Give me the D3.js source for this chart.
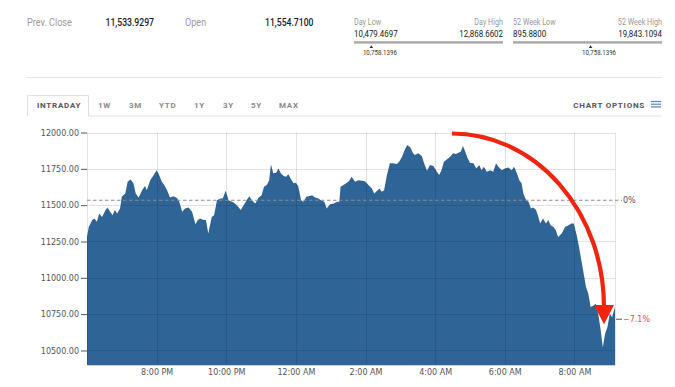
<!DOCTYPE html>
<html lang="en">
<head>
  <meta charset="UTF-8" />
  <title>Intraday chart</title>
  <script src="https://d3js.org/d3.v7.min.js"></script>
  <style>
    body {
      margin: 0;
      background: #fff;
    }
    svg {
      display: block;
    }
    .hdr {
      font-family: "Roboto", Arial, sans-serif;
    }
    .tab {
      font-family: "Roboto", Arial, sans-serif;
      font-weight: bold;
      font-size: 8px;
      letter-spacing: 0.75px;
    }
    .axis text {
      font-family: "DejaVu Sans", Verdana, sans-serif;
      font-size: 8px;
      fill: #555;
    }
  </style>
</head>
<body>
  <svg id="chart" width="675" height="387"></svg>

  <script>
    // quote header
    const prevClose = 11533.9297;
    const openPrice = 11554.71;
    const dayLow = 10479.4697, dayHigh = 12868.6602;
    const weekLow = 895.88, weekHigh = 19843.1094;
    const lastPrice = 10758.1396;
    const changePct = -7.1;

    const tabs = ["INTRADAY", "1W", "3M", "YTD", "1Y", "3Y", "5Y", "MAX"];

    // minutes after 6:00 PM, and price
    const minutes = [0,3,9,13,17,21,26,32,35,40, 44,48,52,57,60,66,70,75,80,84,
      89,95,100,103,109,115,120,123,129,133, 138,143,149,155,159,164,169,175,181,187,
      191,195,201,205,209,215,219,224,230,234, 239,244,250,255,261,265,270,276,280,284,
      290,296,301,305,310,314,317,321,326,330, 334,339,343,347,351,356,360,364,369,373,
      378,382,388,393,399,403,409,413,419,425, 431,435,437,442,448,452,456,462,468,474,
      479,485,491,495,500,504,508,512,517,522, 528,534,538,543,548,552,557,562,565,571,
      577,581,586,591,597,603,607,611,615,620, 626,631,636,640,644,648,652,656,660,666,
      671,676,680,684,689,695,700,705,709,715, 720,726,732,736,741,745,749,752,757,761,
      765,769,774,778,781,786,791,795,799,804, 808,812,818,824,830,835,839,844,848,853,
      857,860,864,868,873,877,881,885,889,893, 897,901,905,910];
    const prices = [11281,11350,11397,11408,11385,11443,11419,11466,11484,11454,
      11431,11466,11443,11477,11557,11581,11661,11677,11650,11581,
      11553,11603,11631,11603,11672,11707,11741,11719,11661,11638,
      11603,11553,11562,11550,11523,11454,11477,11484,11454,11369,
      11397,11408,11397,11397,11305,11419,11431,11534,11546,11546,
      11599,11534,11523,11512,11488,11466,11500,11539,11562,11534,
      11512,11553,11569,11626,11638,11672,11781,11719,11723,11753,
      11719,11700,11695,11712,11684,11650,11654,11631,11534,11523,
      11557,11562,11569,11553,11546,11534,11523,11477,11507,11512,
      11523,11523,11626,11638,11654,11668,11695,11661,11672,11668,
      11665,11638,11615,11581,11599,11615,11592,11603,11707,11788,
      11788,11783,11799,11833,11884,11914,11898,11857,11845,11857,
      11838,11788,11737,11776,11769,11730,11707,11741,11799,11815,
      11833,11857,11852,11861,11868,11907,11868,11822,11792,11788,
      11753,11776,11741,11764,11730,11741,11730,11788,11764,11741,
      11753,11760,11741,11764,11719,11672,11650,11581,11534,11523,
      11477,11484,11466,11419,11374,11408,11374,11397,11362,11350,
      11328,11281,11305,11350,11362,11374,11374,11293,11212,11098,
      11005,10937,10891,10799,10810,10822,10753,10650,10523,10615,
      10661,10753,10730,10799];

    const yTicks = [10500, 10750, 11000, 11250, 11500, 11750, 12000];
    const xTickTimes = ["20:00", "22:00", "00:00", "02:00", "04:00", "06:00", "08:00"];

    // red annotation arrow: [minutes after 6 PM, price]
    const arrowFrom = [629, 11993];
    const arrowTo = [891, 10800];
    const arrowTip = 10680;

    const svg = d3.select("#chart");
    const start = new Date(2020, 2, 8, 18, 0);
    const end = d3.timeMinute.offset(start, 910);
    const data = minutes.map((m, i) => ({ t: d3.timeMinute.offset(start, m), v: prices[i] }));
    const tickDates = xTickTimes.map(s => {
      const [h, m] = s.split(":").map(Number);
      const d = new Date(start);
      if (h < 18) d.setDate(d.getDate() + 1);
      d.setHours(h, m);
      return d;
    });

    const fmt4 = d3.format(",.4f");

    // ---- header (narrow face: squeeze Roboto horizontally) ----
    const hdr = svg.append("g").attr("class", "hdr");
    function hText(x, y, size, fill, str, sx, anchor) {
      return hdr.append("text")
        .attr("transform", `translate(${x},${y}) scale(${sx},1)`)
        .attr("font-size", size).attr("fill", fill)
        .attr("text-anchor", anchor || "start")
        .text(str);
    }
    hText(27, 26, 10.8, "#9a9a9a", "Prev. Close", 0.84);
    hText(105.5, 26, 10.8, "#1a1a1a", fmt4(prevClose), 0.8).attr("font-weight", 500);
    hText(185, 26, 10.8, "#9a9a9a", "Open", 0.84);
    hText(265, 26, 10.8, "#1a1a1a", fmt4(openPrice), 0.8).attr("font-weight", 500);

    function rangeBlock(x0, x1, lowLabel, highLabel, lo, hi) {
      hText(x0, 24.8, 8.8, "#999", lowLabel, 0.82);
      hText(x1, 24.8, 8.8, "#999", highLabel, 0.82, "end");
      hText(x0, 36.6, 9.2, "#1a1a1a", fmt4(lo), 0.86);
      hText(x1, 36.6, 9.2, "#1a1a1a", fmt4(hi), 0.86, "end");
      hdr.append("rect").attr("x", x0).attr("y", 41.2).attr("width", x1 - x0).attr("height", 2.4).attr("fill", "#a9a9a9");
      const s = d3.scaleLinear().domain([lo, hi]).range([x0, x1]);
      const mx = s(lastPrice);
      hdr.append("path").attr("d", `M${mx - 1.8},48 L${mx + 1.8},48 L${mx},45.2 Z`).attr("fill", "#333");
      hText(mx - 8.5, 55, 6.5, "#333", fmt4(lastPrice), 0.95);
    }
    rangeBlock(354, 503, "Day Low", "Day High", dayLow, dayHigh);
    rangeBlock(513, 662, "52 Week Low", "52 Week High", weekLow, weekHigh);

    svg.append("line").attr("x1", 27).attr("x2", 662).attr("y1", 77.5).attr("y2", 77.5)
      .attr("stroke", "#e6e6e6");

    // ---- tabs ----
    svg.append("path").attr("d", "M27.5,116 V95.5 H88.5 V116").attr("fill", "none").attr("stroke", "#e0e0e0");
    svg.append("line").attr("x1", 88.5).attr("x2", 662).attr("y1", 116).attr("y2", 116).attr("stroke", "#e6e6e6");
    const tabX = [37, 98, 129, 159, 194, 223, 251, 279];
    svg.append("g").selectAll("text").data(tabs).join("text")
      .attr("class", "tab")
      .attr("x", (d, i) => tabX[i]).attr("y", 107.5)
      .attr("fill", (d, i) => i === 0 ? "#555" : "#8a8a8a")
      .text(d => d);
    svg.append("text").attr("class", "tab").attr("x", 645).attr("y", 107.5).attr("text-anchor", "end")
      .attr("fill", "#555").attr("letter-spacing", "0.6px").text("CHART OPTIONS");
    svg.append("g").selectAll("line").data([101.5, 104.2, 106.9]).join("line")
      .attr("x1", 651).attr("x2", 661).attr("y1", d => d).attr("y2", d => d)
      .attr("stroke", "#5b80b8").attr("stroke-width", 1.2);

    // ---- chart ----
    const plotLeft = 87, plotRight = 615, plotTop = 132.5, plotBottom = 365;
    const x = d3.scaleTime().domain([start, end]).range([plotLeft, plotRight]);
    const y = d3.scaleLinear().domain([10400, 12000]).range([plotBottom, plotTop]);

    svg.append("path")
      .datum(data)
      .attr("fill", "#2f6497")
      .attr("d", d3.area().x(d => x(d.t)).y0(plotBottom).y1(d => y(d.v)));

    // grid
    const grid = svg.append("g").attr("stroke", "rgba(0,0,0,0.11)").attr("stroke-width", 1);
    grid.selectAll(".h").data(yTicks).join("line")
      .attr("x1", plotLeft).attr("x2", plotRight)
      .attr("y1", d => Math.round(y(d)) + 0.5).attr("y2", d => Math.round(y(d)) + 0.5);
    grid.selectAll(".v").data([start, ...tickDates, end]).join("line")
      .attr("x1", d => Math.round(x(d)) + 0.5).attr("x2", d => Math.round(x(d)) + 0.5)
      .attr("y1", plotTop).attr("y2", plotBottom);

    // y axis
    const yAxis = svg.append("g").attr("class", "axis")
      .attr("transform", `translate(${plotLeft},0)`)
      .call(d3.axisLeft(y).tickValues(yTicks).tickFormat(d3.format(".2f")).tickSize(6).tickPadding(2));
    yAxis.select(".domain").remove();
    yAxis.selectAll(".tick line").attr("stroke", "#555");

    // x axis
    const xAxis = svg.append("g").attr("class", "axis")
      .attr("transform", `translate(0,${plotBottom})`)
      .call(d3.axisBottom(x).tickValues(tickDates).tickFormat(d3.timeFormat("%-I:%M %p")).tickSize(0).tickPadding(4));
    xAxis.select(".domain").attr("stroke", "#c8d3e0");

    // previous close reference
    const yPrev = y(prevClose);
    svg.append("line").attr("x1", plotLeft).attr("x2", plotRight + 7).attr("y1", yPrev).attr("y2", yPrev)
      .attr("stroke", "#8c8c8c").attr("stroke-width", 1.2).attr("stroke-dasharray", "3.5,2.5");
    svg.append("text").attr("x", plotRight + 8).attr("y", yPrev + 3)
      .attr("font-family", "DejaVu Sans, sans-serif").attr("font-size", 8).attr("fill", "#555").text("0%");

    const yPct = y(prevClose * (1 + changePct / 100));
    svg.append("line").attr("x1", plotRight + 1).attr("x2", plotRight + 7).attr("y1", yPct).attr("y2", yPct)
      .attr("stroke", "#555");
    svg.append("text").attr("x", plotRight + 8).attr("y", yPct + 3)
      .attr("font-family", "DejaVu Sans, sans-serif").attr("font-size", 8).attr("fill", "#f04a4a")
      .text(d3.format(".1f")(changePct) + "%");

    // red arrow
    const ax0 = x(d3.timeMinute.offset(start, arrowFrom[0])), ay0 = y(arrowFrom[1]);
    const ax1 = x(d3.timeMinute.offset(start, arrowTo[0])), ay1 = y(arrowTo[1]);
    svg.append("path")
      .attr("d", `M${ax0},${ay0} A${ax1 - ax0},${ay1 - ay0} 0 0 1 ${ax1},${ay1}`)
      .attr("fill", "none").attr("stroke", "#f2230f").attr("stroke-width", 4.2);
    svg.append("path")
      .attr("d", `M${ax1 - 10},${ay1 - 2} L${ax1 + 10},${ay1 - 2} L${ax1},${y(arrowTip)} Z`)
      .attr("fill", "#f2230f");
  </script>
</body>
</html>
